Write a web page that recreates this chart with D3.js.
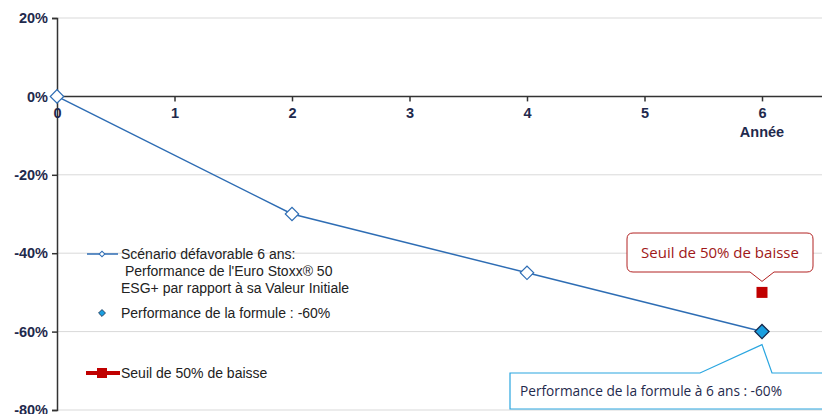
<!DOCTYPE html>
<html><head><meta charset="utf-8">
<script src="https://cdnjs.cloudflare.com/ajax/libs/d3/7.8.5/d3.min.js"></script>
<style>body{margin:0;background:#fff}svg{display:block}</style>
</head><body>
<script>
const years = [0, 2, 4, 6];
const perf = [0, -0.30, -0.45, -0.60];
const formulaYear = [6];
const formulaValue = [-0.60];
const thresholdYear = [6];
const thresholdValue = [-0.50];
const xTicks = [0, 1, 2, 3, 4, 5, 6];
const yTicks = [0.2, 0, -0.2, -0.4, -0.6, -0.8];
const legendLines = ["Scénario défavorable 6 ans:", " Performance de l'Euro Stoxx® 50", "ESG+ par rapport à sa Valeur Initiale"];
const legendFormula = "Performance de la formule : -60%";
const legendThreshold = "Seuil de 50% de baisse";
const calloutThreshold = "Seuil de 50% de baisse";
const calloutFormula = "Performance de la formule à 6 ans : -60%";

const W = 822, H = 414;
const svg = d3.select("body").append("svg").attr("width", W).attr("height", H);
const x = d3.scaleLinear().domain([0, 6]).range([57, 762]);
const y = d3.scaleLinear().domain([0.2, -0.8]).range([18, 410]);
const navy = "#1F2A4D", lineBlue = "#2E6DB4";
const font = "Liberation Sans, Arial, sans-serif";
const pct = d => Math.round(d * 100) + "%";

// gridlines
svg.append("g").selectAll("line").data(yTicks.filter(d => d !== 0)).join("line")
  .attr("x1", 57).attr("x2", W).attr("y1", d => y(d)).attr("y2", d => y(d))
  .attr("stroke", "#d9d9d9").attr("stroke-width", 1);

// y axis
const yAxis = svg.append("g").attr("transform", `translate(${x(0)},0)`)
  .call(d3.axisLeft(y).tickValues(yTicks).tickFormat(pct).tickSize(5).tickPadding(4));
yAxis.select(".domain").attr("stroke", "#333").attr("stroke-width", 1.5);
yAxis.selectAll(".tick line").attr("stroke", "#333").attr("stroke-width", 1.5);
yAxis.selectAll("text").attr("font-family", font).attr("font-weight", "bold").attr("font-size", 14.5).attr("fill", navy);

// x axis at 0
const xAxis = svg.append("g").attr("transform", `translate(0,${y(0)})`)
  .call(d3.axisBottom(x).tickValues(xTicks).tickFormat(d3.format("d")).tickSize(5).tickPadding(6));
xAxis.select(".domain").remove();
svg.append("line").attr("x1", x(0)).attr("x2", W).attr("y1", y(0)).attr("y2", y(0)).attr("stroke", "#333").attr("stroke-width", 1.5);
xAxis.selectAll(".tick line").attr("stroke", "#333").attr("stroke-width", 1.5);
xAxis.selectAll("text").attr("font-family", font).attr("font-weight", "bold").attr("font-size", 14.5).attr("fill", navy);
svg.append("text").attr("x", x(6)).attr("y", 137).attr("text-anchor", "middle")
  .attr("font-family", font).attr("font-weight", "bold").attr("font-size", 14.5).attr("fill", navy).text("Année");

// series line
const line = d3.line().x((d, i) => x(years[i])).y(d => y(d));
svg.append("path").datum(perf).attr("d", line).attr("fill", "none").attr("stroke", lineBlue).attr("stroke-width", 1.5);
svg.append("g").selectAll("path").data(perf).join("path")
  .attr("transform", (d, i) => `translate(${x(years[i])},${y(d)}) rotate(45)`)
  .attr("d", d3.symbol().type(d3.symbolSquare).size(90))
  .attr("fill", "#fff").attr("stroke", lineBlue).attr("stroke-width", 1.2);

// threshold square
svg.append("g").selectAll("rect").data(thresholdValue).join("rect")
  .attr("x", (d, i) => x(thresholdYear[i]) - 5.5).attr("y", d => y(d) - 5.5)
  .attr("width", 11).attr("height", 11).attr("fill", "#C00000");

// callout threshold
{
  const px = x(thresholdYear[0]), py = y(thresholdValue[0]) - 11;
  const bx0 = 627, bx1 = 813, by0 = 233, by1 = 272, r = 6;
  const p = d3.path();
  p.moveTo(bx0 + r, by0); p.lineTo(bx1 - r, by0); p.quadraticCurveTo(bx1, by0, bx1, by0 + r);
  p.lineTo(bx1, by1 - r); p.quadraticCurveTo(bx1, by1, bx1 - r, by1);
  p.lineTo(px + 12, by1); p.lineTo(px, py); p.lineTo(px - 12, by1);
  p.lineTo(bx0 + r, by1); p.quadraticCurveTo(bx0, by1, bx0, by1 - r);
  p.lineTo(bx0, by0 + r); p.quadraticCurveTo(bx0, by0, bx0 + r, by0); p.closePath();
  svg.append("path").attr("d", p.toString()).attr("fill", "#fff").attr("stroke", "#B22222").attr("stroke-width", 1);
  svg.append("text").attr("x", (bx0 + bx1) / 2).attr("y", 258).attr("text-anchor", "middle")
    .attr("font-family", "Open Sans, Liberation Sans, sans-serif").attr("font-size", 15).attr("fill", "#A01818").text(calloutThreshold);
}

// formula diamond
svg.append("g").selectAll("path").data(formulaValue).join("path")
  .attr("transform", (d, i) => `translate(${x(formulaYear[i])},${y(d)}) rotate(45)`)
  .attr("d", d3.symbol().type(d3.symbolSquare).size(100))
  .attr("fill", "#1A9FE0").attr("stroke", "#1F3050").attr("stroke-width", 1.3);

// callout formula
{
  const px = x(formulaYear[0]), py = y(formulaValue[0]) + 13;
  const bx0 = 510, bx1 = 830, by0 = 373, by1 = 409;
  const p = d3.path();
  p.moveTo(bx0, by0); p.lineTo(700, by0); p.lineTo(px, py); p.lineTo(772, by0); p.lineTo(bx1, by0);
  p.lineTo(bx1, by1); p.lineTo(bx0, by1); p.closePath();
  svg.append("path").attr("d", p.toString()).attr("fill", "#fff").attr("stroke", "#2AA6E0").attr("stroke-width", 1.2);
  svg.append("text").attr("x", 520).attr("y", 396)
    .attr("font-family", "Open Sans, Liberation Sans, sans-serif").attr("font-size", 13.7).attr("fill", "#1F2A4D").text(calloutFormula);
}

// legend
const lg = svg.append("g").attr("font-family", font).attr("font-size", 14).attr("fill", "#222");
lg.append("line").attr("x1", 87).attr("x2", 118).attr("y1", 254).attr("y2", 254).attr("stroke", lineBlue).attr("stroke-width", 1.5);
lg.append("path").attr("transform", "translate(102,254) rotate(45)").attr("d", d3.symbol().type(d3.symbolSquare).size(16))
  .attr("fill", "#fff").attr("stroke", lineBlue).attr("stroke-width", 1);
lg.selectAll("text.l").data(legendLines).join("text").attr("class", "l")
  .attr("x", 121).attr("y", (d, i) => 259 + i * 17).attr("xml:space", "preserve").style("white-space", "pre").text(d => d);
lg.append("path").attr("transform", "translate(102,313) rotate(45)").attr("d", d3.symbol().type(d3.symbolSquare).size(24))
  .attr("fill", "#1A9FE0").attr("stroke", "#1F3050").attr("stroke-width", 0.8);
lg.append("text").attr("x", 121).attr("y", 318).text(legendFormula);
lg.append("line").attr("x1", 86).attr("x2", 120).attr("y1", 373).attr("y2", 373).attr("stroke", "#C00000").attr("stroke-width", 4);
lg.append("rect").attr("x", 97).attr("y", 368).attr("width", 10).attr("height", 10).attr("fill", "#C00000");
lg.append("text").attr("x", 121).attr("y", 378).text(legendThreshold);
</script>
</body></html>
